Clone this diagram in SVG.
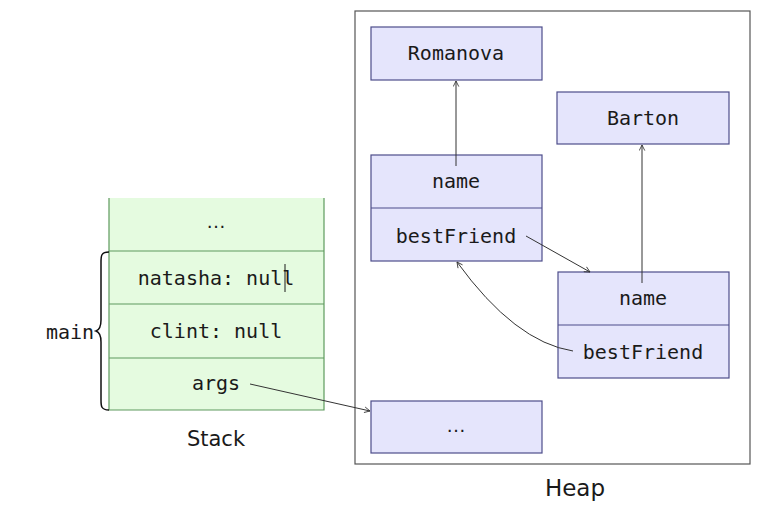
<svg xmlns="http://www.w3.org/2000/svg" width="758" height="511" viewBox="0 0 758 511">
<defs>
<style>
.mono{font-family:"DejaVu Sans Mono","Liberation Mono",monospace;font-size:20px;fill:#1a1a1a;text-anchor:middle}
.sans{font-family:"DejaVu Sans","Liberation Sans",sans-serif;fill:#1a1a1a;text-anchor:middle}
.dots{font-family:"Liberation Sans",sans-serif;font-size:20px;fill:#1a1a1a;text-anchor:middle}
.hb{fill:#e5e5fc;stroke:#4d4d8a;stroke-width:1.2}
.sl{stroke:#5e9a5e;stroke-width:1.2;fill:none}
.hl{stroke:#4d4d8a;stroke-width:1.2;fill:none}
.conn{stroke:#333;stroke-width:1;fill:none;marker-end:url(#arr)}
</style>
<marker id="arr" viewBox="0 0 10 10" refX="9" refY="5" markerWidth="7" markerHeight="7" markerUnits="userSpaceOnUse" orient="auto">
<path d="M1,1 L9,5 L1,9" fill="none" stroke="#333" stroke-width="1.2"/>
</marker>
</defs>
<rect width="758" height="511" fill="#fff"/>
<g id="heap-frame">
<rect x="355" y="11" width="395" height="453" fill="none" stroke="#555" stroke-width="1.2"/>
<text class="sans" x="575" y="496" font-size="23">Heap</text>
</g>
<g id="stack">
<rect x="109" y="198" width="215" height="212" fill="#e5fbe0" stroke="none"/>
<path class="sl" d="M109,198 V410 H324 V198 M109,251 H324 M109,304 H324 M109,358 H324"/>
<text class="dots" x="216" y="228">…</text>
<text class="mono" x="216" y="285">natasha: null</text>
<line x1="285" y1="264" x2="285" y2="292" stroke="#1a1a1a" stroke-width="1"/>
<text class="mono" x="216" y="338">clint: null</text>
<text class="mono" x="216" y="390">args</text>
<text class="sans" x="216" y="446" font-size="21">Stack</text>
</g>
<g id="main-brace">
<path d="M109,252 C101,252 101,256 101,262 V320 C101,326 99,330 96,331 C99,332 101,336 101,342 V400 C101,406 101,410 109,410" fill="none" stroke="#111" stroke-width="1.5"/>
<text class="mono" x="70" y="339">main</text>
</g>
<g id="romanova">
<rect class="hb" x="371" y="27" width="171" height="53"/>
<text class="mono" x="456" y="60">Romanova</text>
</g>
<g id="barton">
<rect class="hb" x="557" y="92" width="172" height="52"/>
<text class="mono" x="643" y="125">Barton</text>
</g>
<g id="natasha-obj">
<rect class="hb" x="371" y="155" width="171" height="106"/>
<line class="hl" x1="371" y1="208" x2="542" y2="208"/>
<text class="mono" x="456" y="188">name</text>
<text class="mono" x="456" y="243">bestFriend</text>
</g>
<g id="clint-obj">
<rect class="hb" x="558" y="272" width="171" height="106"/>
<line class="hl" x1="558" y1="325" x2="729" y2="325"/>
<text class="mono" x="643" y="305">name</text>
<text class="mono" x="643" y="359">bestFriend</text>
</g>
<g id="args-array">
<rect class="hb" x="371" y="401" width="171" height="52"/>
<text class="dots" x="456" y="432">…</text>
</g>
<g id="connectors">
<path class="conn" d="M456,166 V81"/>
<path class="conn" d="M642,283 V145"/>
<path class="conn" d="M526,236 L590,272"/>
<path class="conn" d="M573,351 Q515,342 457,262"/>
<path class="conn" d="M250,384 L370,411"/>
</g>
</svg>
